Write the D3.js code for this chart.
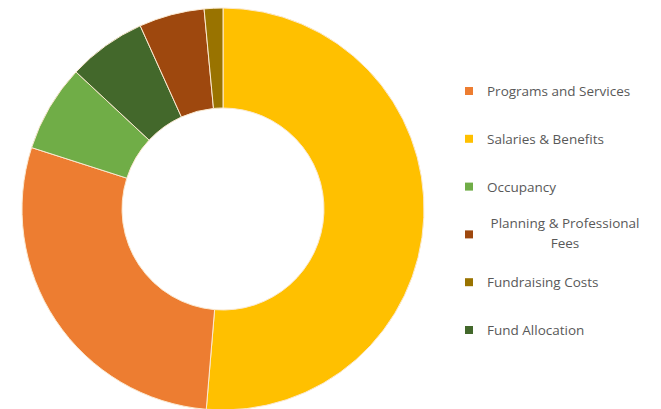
<!DOCTYPE html>
<html>
<head>
<meta charset="utf-8">
<script src="https://cdn.jsdelivr.net/npm/d3@7"></script>
<style>
  body { margin: 0; background: #fff; }
  svg { display: block; }
</style>
</head>
<body>
<svg id="chart" width="661" height="409"></svg>
<script>
// legend order
var categories = ['Programs and Services', 'Salaries & Benefits', 'Occupancy',
  'Planning & Professional Fees', 'Fundraising Costs', 'Fund Allocation'];
var values = [28.6, 51.3, 7.0, 5.25, 1.5, 6.3];
var colors = ['#ED7D31', '#FFC000', '#70AD47', '#9E480E', '#997300', '#43682B'];
// order the slices are drawn clockwise from 12 o'clock
var sliceOrder = [1, 0, 2, 5, 3, 4];
var legendLines = [['Programs and Services'], ['Salaries & Benefits'], ['Occupancy'],
  ['Planning & Professional', 'Fees'], ['Fundraising Costs'], ['Fund Allocation']];

var svg = d3.select('#chart');
var cx = 223, cy = 209, outerR = 201, innerR = 101;

var pie = d3.pie().sort(null).value(function (i) { return values[i]; });
var arc = d3.arc().innerRadius(innerR).outerRadius(outerR);

svg.append('g').attr('transform', 'translate(' + cx + ',' + cy + ')')
  .selectAll('path').data(pie(sliceOrder)).enter()
  .append('path')
  .attr('d', arc)
  .attr('fill', function (d) { return colors[d.data]; })
  .attr('stroke', '#fbe9d0')
  .attr('stroke-width', 1);

var y = d3.scaleLinear().domain([0, 5]).range([91, 330]);

var legend = svg.append('g')
  .selectAll('g').data(categories).enter()
  .append('g')
  .attr('transform', function (d, i) { return 'translate(0,' + y(i) + ')'; });

legend.append('rect')
  .attr('x', 465).attr('y', -4).attr('width', 8).attr('height', 8)
  .attr('fill', function (d, i) { return colors[i]; });

legend.each(function (d, i) {
  var lines = legendLines[i];
  var g = d3.select(this);
  if (lines.length === 1) {
    g.append('text').attr('x', 487).attr('y', 5)
      .text(lines[0]);
  } else {
    lines.forEach(function (l, k) {
      g.append('text').attr('x', 565).attr('text-anchor', 'middle')
        .attr('y', 5 + (k - 0.5) * 20 - 1)
        .text(l);
    });
  }
});

legend.selectAll('text')
  .attr('font-family', '"Open Sans", sans-serif')
  .attr('font-size', '13.5px')
  .attr('fill', '#595959');
</script>
</body>
</html>
